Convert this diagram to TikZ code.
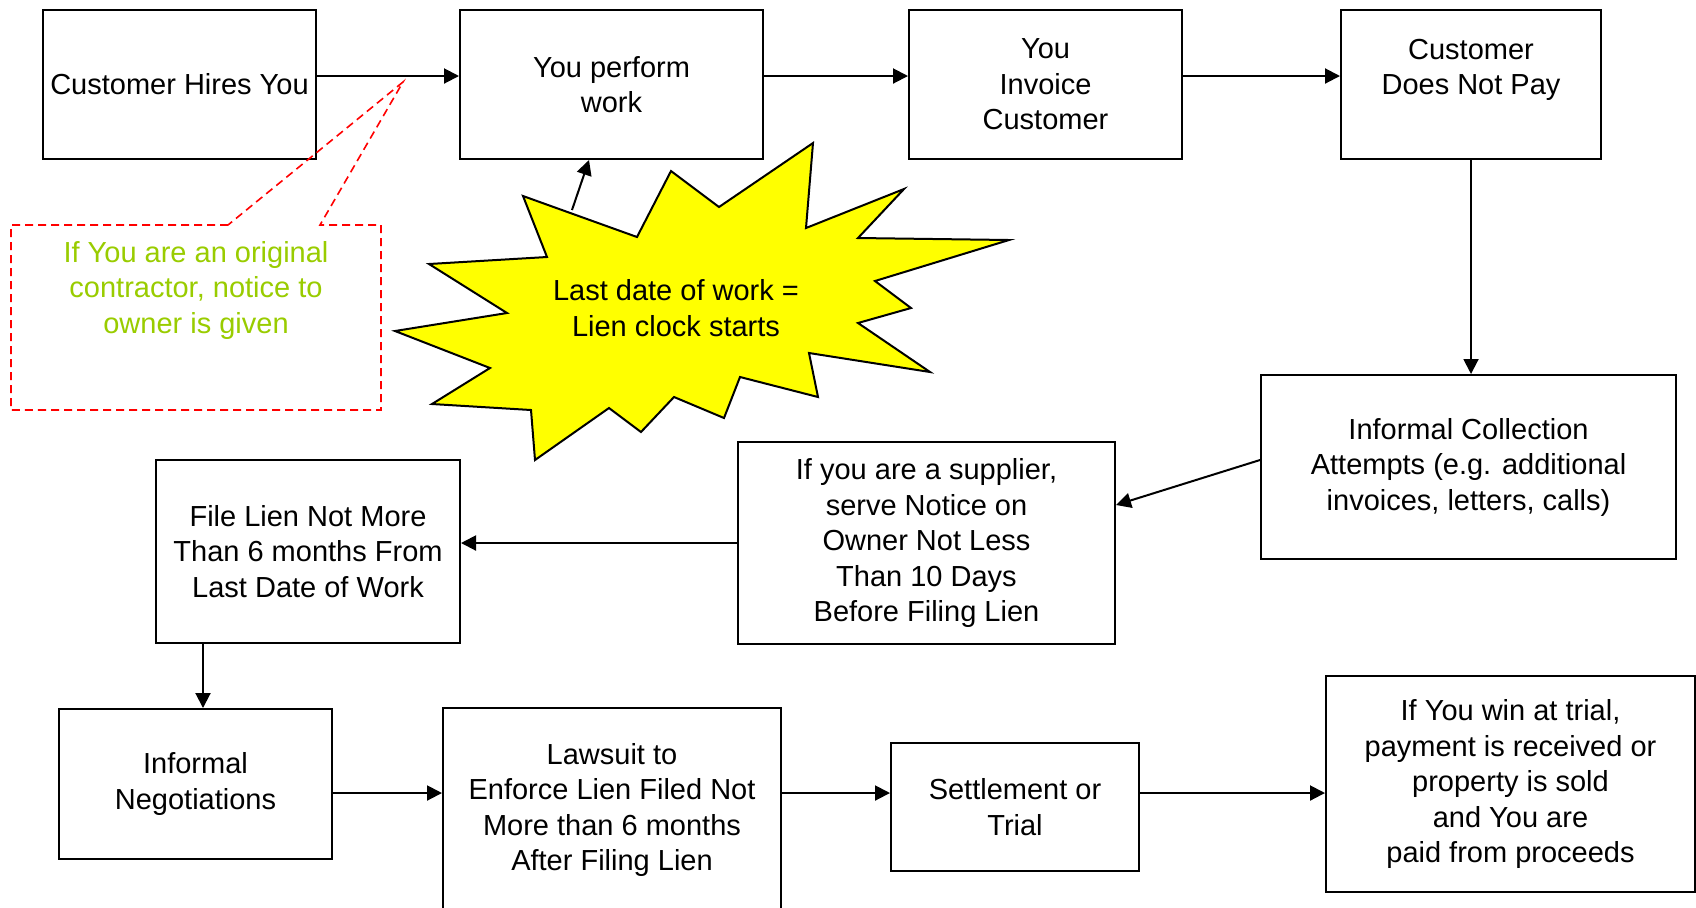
\documentclass[tikz,border=0pt]{standalone}
\usepackage{fontspec}
\setmainfont{Liberation Sans}
\usepackage{xcolor}
\usepackage{tikz}
\usetikzlibrary{calc,arrows.meta}
\definecolor{ink}{HTML}{000000}
\definecolor{notegreen}{HTML}{99CC00}
\definecolor{notered}{HTML}{FF0000}
\definecolor{burst}{HTML}{FFFF00}
\tikzset{
  txt/.style={font=\fontsize{14.5}{17.75}\selectfont, text=ink},
  box/.style={draw=ink, line width=1pt, inner sep=0pt, align=center, txt},
  arr/.style={draw=ink, line width=1pt, -{Triangle[length=7.5pt,width=7.5pt]}},
  callout/.style={draw=notered, line width=0.8pt, dash pattern=on 4pt off 2.5pt},
  star/.style={draw=ink, fill=burst, line width=1pt, line join=miter},
  notetxt/.style={txt, text=notegreen, align=center},
}

\begin{document}
\begin{tikzpicture}[x=0.5pt,y=-0.5pt]
  \useasboundingbox (0,0) rectangle (1696,907);
  \coordinate (top) at (0,76);
  \coordinate (low) at (0,793);

  % top row
  \node[box,minimum width=136.5pt,minimum height=74.5pt] (hire) at (179.5,84.5) {Customer Hires You};
  \node[box,minimum width=151.5pt,minimum height=74.5pt] (work) at (611.5,84.5) {You perform\\work};
  \node[box,minimum width=136.5pt,minimum height=74.5pt] (invoice) at (1045.5,84.5) {You\\Invoice\\Customer};
  \node[box,minimum width=130pt,minimum height=74.5pt] (nopay) at (1471,84.5) {Customer\\Does Not Pay\\\mbox{}};

  % middle row
  \node[box,minimum width=207.5pt,minimum height=92pt] (collect) at (1468.5,467) {Informal Collection\\Attempts (e.g. additional\\invoices, letters, calls)};
  \node[box,minimum width=188.5pt,minimum height=101pt] (supplier) at (926.5,543) {If you are a supplier,\\serve Notice on\\Owner Not Less\\Than 10 Days\\Before Filing Lien};
  \node[box,minimum width=152pt,minimum height=91.5pt] (file) at (308,551.5) {File Lien Not More\\Than 6 months From\\Last Date of Work};

  % bottom row
  \node[box,minimum width=136.5pt,minimum height=75pt] (negot) at (195.5,784) {Informal\\Negotiations};
  \node[box,minimum width=169pt,minimum height=102pt] (lawsuit) at (612,810) {Lawsuit to\\Enforce Lien Filed Not\\More than 6 months\\After Filing Lien};
  \node[box,minimum width=124pt,minimum height=64pt] (trial) at (1015,807) {Settlement or\\Trial};
  \node[box,minimum width=184.5pt,minimum height=108pt] (paid) at (1510.5,784) {If You win at trial,\\payment is received or\\property is sold\\and You are\\paid from proceeds};

  % notice callout
  \draw[callout] (228,225) -- (11,225) -- (11,410) -- (381,410) -- (381,225) -- (320,225) -- (403,82) -- cycle;
  \node[notetxt] (notice) at (196,290) {If You are an original\\contractor, notice to\\owner is given};

  % lien clock burst
  \draw[star] (523,196) -- (637,237) -- (671,171) -- (719,207) -- (813,143) -- (806,228)
    -- (904,189) -- (858,238) -- (1009,240) -- (875,281) -- (911,308) -- (858,323)
    -- (930,372) -- (809,353) -- (818,397) -- (740,377) -- (724,418) -- (674,397)
    -- (641,432) -- (609,408) -- (535,460) -- (531,410) -- (432,404) -- (490,368)
    -- (395,331) -- (507,313) -- (429,264) -- (547,257) -- cycle;
  \node[txt,align=center] (clock) at (676,308) {Last date of work =\\Lien clock starts};
  \coordinate (burstTip) at (572,210);

  % connectors
  \draw[arr] (hire.east |- top) -- (work.west |- top);
  \draw[arr] (work.east |- top) -- (invoice.west |- top);
  \draw[arr] (invoice.east |- top) -- (nopay.west |- top);
  \draw[arr] (nopay.south) -- (nopay.south |- collect.north);
  \draw[arr] ([yshift=3.5pt]collect.west) -- ([yshift=19pt]supplier.east);
  \draw[arr] (supplier.west) -- ([yshift=4.25pt]file.east);
  \draw[arr] ([xshift=3.75pt]negot.north |- file.south) -- ([xshift=3.75pt]negot.north);
  \draw[arr] (negot.east |- low) -- (lawsuit.west |- low);
  \draw[arr] (lawsuit.east |- low) -- (trial.west |- low);
  \draw[arr] (trial.east |- low) -- (paid.west |- low);
  \draw[arr] (burstTip) -- ([xshift=-11.25pt]work.south);
\end{tikzpicture}
\end{document}
